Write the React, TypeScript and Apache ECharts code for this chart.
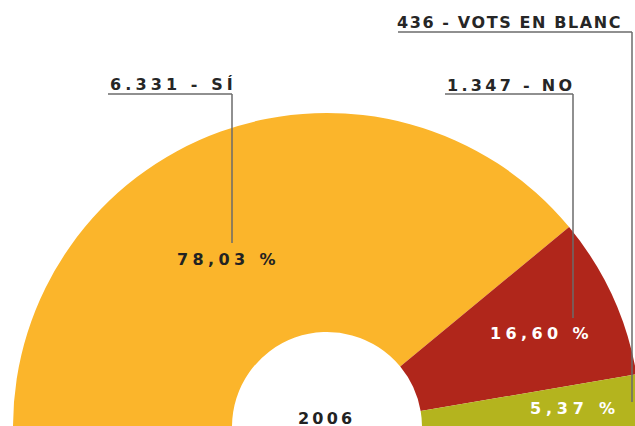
import React, { useEffect, useRef } from "react";
import * as echarts from "echarts";

const categories = ["SÍ", "NO", "VOTS EN BLANC"];
const votes = [6331, 1347, 436];
const percentLabels = ["78,03 %", "16,60 %", "5,37 %"];
const yearLabel = "2006";
const colors = ["#FBB52B", "#B0261B", "#B4B41E"];

const fmtVotes = (v: number) => {
  const s = String(v);
  return s.length > 3 ? s.slice(0, s.length - 3) + "." + s.slice(-3) : s;
};

export default function App() {
  const ref = useRef<HTMLDivElement>(null);
  useEffect(() => {
    if (!ref.current) return;
    const chart = echarts.init(ref.current, null, { renderer: "svg" });
    const font = "'DejaVu Sans', sans-serif";
    const lineStyle = { stroke: "#6b6b6b", lineWidth: 1.5 };
    const txt = (text: string, x: number, y: number, fill: string) => ({
      type: "text",
      x,
      y,
      z: 100,
      style: {
        text,
        fill,
        font: `bold 16px ${font}`,
        textAlign: "left",
        textVerticalAlign: "middle",
      },
    });
    const ln = (x1: number, y1: number, x2: number, y2: number) => ({
      type: "line",
      z: 100,
      shape: { x1, y1, x2, y2 },
      style: lineStyle,
    });
    const head0 = `${fmtVotes(votes[0])} - ${categories[0]}`;
    const head1 = `${fmtVotes(votes[1])} - ${categories[1]}`;
    const head2 = `${fmtVotes(votes[2])} - ${categories[2]}`;
    const spacing: Record<string, number> = {
      [head0]: 4.1,
      [head1]: 3.3,
      [head2]: 1.6,
      [percentLabels[0]]: 4.4,
      [percentLabels[1]]: 4.4,
      [percentLabels[2]]: 4.8,
      [yearLabel]: 3.2,
    };
    chart.setOption({
      animation: false,
      series: [
        {
          type: "pie",
          center: [327, 427],
          radius: [95, 314],
          startAngle: 180,
          endAngle: 0,
          clockwise: true,
          silent: true,
          label: { show: false },
          labelLine: { show: false },
          itemStyle: { borderWidth: 0 },
          data: categories.map((c, i) => ({
            name: c,
            value: votes[i],
            itemStyle: { color: colors[i] },
          })),
        },
      ],
      graphic: [
        ln(108, 94, 232, 94),
        ln(232, 94, 232, 243),
        ln(445, 94, 573, 94),
        ln(573, 94, 573, 318),
        ln(398, 32, 632, 32),
        ln(632, 32, 632, 402),
        txt(head0, 110, 84, "#262626"),
        txt(head1, 447, 85, "#262626"),
        txt(head2, 397, 22, "#262626"),
        txt(percentLabels[0], 177, 259, "#222222"),
        txt(percentLabels[1], 490, 333, "#ffffff"),
        txt(percentLabels[2], 530, 408, "#ffffff"),
        txt(yearLabel, 298, 418, "#222222"),
      ],
    });
    ref.current.querySelectorAll("text").forEach((t) => {
      const s = spacing[t.textContent || ""];
      if (s !== undefined) t.setAttribute("letter-spacing", String(s));
    });
    return () => chart.dispose();
  }, []);
  return <div ref={ref} style={{ width: 635, height: 426, position: "fixed", left: 0, top: 0, background: "#fff" }} />;
}
